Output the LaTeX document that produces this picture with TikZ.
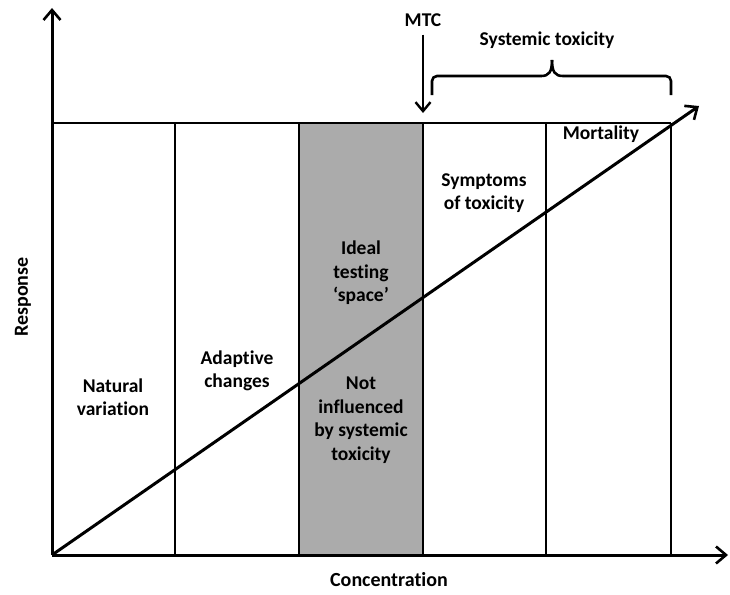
\documentclass[tikz,border=0pt]{standalone}
\usepackage{fontspec}
\setmainfont{Carlito}[Ligatures=NoCommon]
\usetikzlibrary{arrows.meta}
\definecolor{testspace}{RGB}{171,171,171}
\tikzstyle{zone}=[font=\bfseries\fontsize{19.5}{23.5}\selectfont, align=center, inner sep=0pt]
\tikzstyle{axistitle}=[font=\bfseries\fontsize{20}{24}\selectfont, inner sep=0pt]
\tikzset{axis/.style={line width=3pt,-{Straight Barb[length=10pt,width=17pt,line width=2.6pt]}}}
\tikzset{bound/.style={line width=2.6pt}}
\tikzset{trend/.style={line width=3pt,-{Straight Barb[length=10pt,width=17pt,line width=2.6pt]}}}
\tikzset{y=-1pt}
\tikzset{x=1pt}

\begin{document}
\begin{tikzpicture}
  \useasboundingbox (0,0) rectangle (730,594);
  %% Column corners
  \draw (52,555) coordinate (B0);
  \draw (175,555) coordinate (B1);
  \draw (299,555) coordinate (B2);
  \draw (423,555) coordinate (B3);
  \draw (546,555) coordinate (B4);
  \draw (671,555) coordinate (B5);

  \draw (52,123) coordinate (T0);
  \draw (175,123) coordinate (T1);
  \draw (299,123) coordinate (T2);
  \draw (423,123) coordinate (T3);
  \draw (546,123) coordinate (T4);
  \draw (671,123) coordinate (T5);

  \draw (52,8) coordinate (Ytip);
  \draw (728,555) coordinate (Xtip);
  \draw (699,106) coordinate (Dtip);

  %% Ideal testing column
  \fill[testspace] (B2) rectangle (T3);

  \draw[bound] (T0) -- (T5);
  \draw[bound] (B1) -- (T1);
  \draw[bound] (B2) -- (T2);
  \draw[bound] (B3) -- (T3);
  \draw[bound] (B4) -- (T4);
  \draw[bound] (B5) -- (T5);

  %% Axes
  \draw[axis] (B0) -- (Ytip);
  \draw[axis] (B0) -- (Xtip);
  \draw[trend] (B0) -- (Dtip);

  %% Zone texts
  \draw (113,397) node[zone] (natural) {Natural\\variation};
  \draw (237,371) node[zone] (adaptive) {Adaptive\\changes};
  \draw (361,273) node[zone] (ideal) {Ideal\\testing\\‘space’};
  \draw (361,420) node[zone] (notinfl) {Not\\influenced\\by systemic\\toxicity};
  \draw (484,193) node[zone] (symptoms) {Symptoms\\of toxicity};
  \draw (601,134) node[zone] (mortality) {Mortality};

  %% MTC and systemic toxicity
  \draw (423,20) node[zone] (mtc) {MTC};
  \draw[-{Straight Barb[length=9pt,width=15pt,line width=2.4pt]},line width=2.8pt,shorten <=8pt,shorten >=10pt] (mtc) -- (T3);
  \draw (432,95) coordinate (S1);
  \draw (671,95) coordinate (S2);
  \draw (552,60) coordinate (Stip);
  \draw[line width=2.6pt,rounded corners=5pt] (S1) -- (432,76) -- (541,76);
  \draw[line width=2.6pt] (541,76) .. controls (549,76) and (552,72) .. (Stip);
  \draw[line width=2.6pt] (Stip) .. controls (552,72) and (555,76) .. (563,76);
  \draw[line width=2.6pt,rounded corners=5pt] (563,76) -- (671,76) -- (S2);
  \draw (547,40) node[zone] (systemic) {Systemic toxicity};

  %% Axis titles
  \draw (23,297) node[axistitle,rotate=90] (response) {Response};
  \draw (389,580) node[axistitle] (concentration) {Concentration};
\end{tikzpicture}
\end{document}
